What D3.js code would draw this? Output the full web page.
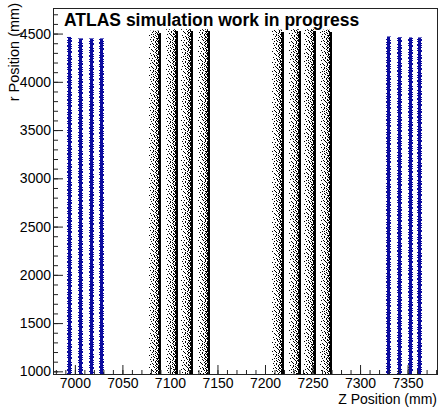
<!DOCTYPE html>
<html>
<head>
<meta charset="utf-8">
<script src="https://cdn.jsdelivr.net/npm/d3@7"></script>
<style>
  body { margin: 0; background: #fff; }
  text { font-family: "Liberation Sans", Arial, Helvetica, sans-serif; }
</style>
</head>
<body>
<div id="chart"></div>
<script>
var width = 441,
    height = 408,
    frame = {left: 53, right: 438, top: 8, bottom: 375};

// axis ticks
var zTicks = [7000, 7050, 7100, 7150, 7200, 7250, 7300, 7350];
var rTicks = [1000, 1500, 2000, 2500, 3000, 3500, 4000, 4500];

// blue layers: z of each strip (mm) and the highest r reached (mm)
var blueZ   = [6994, 7006, 7017.7, 7028, 7329.7, 7341.3, 7352.6, 7363];
var blueTop = [4465, 4450, 4450, 4450, 4470, 4462, 4460, 4460];

// black layers: z of the dense edge of each strip and the highest r reached
var blackZ   = [7091, 7108.5, 7124, 7142, 7220, 7238, 7253.5, 7271];
var blackTop = [4530, 4545, 4545, 4545, 4540, 4545, 4545, 4540];

// hits continue below the visible range
var rLow = 900;

// hit textures ('#' = hit pixel), mimic the scatter of single hits
var blackTex = [
    "....#..#.#", "..#...#.##", "......#..#", "...#...#.#",
    ".#..#..##.", "......#..#", "....#..#.#", "#....#..##",
    ".......#.#", "..#...#..#", "...#...##.", "....#..#.#",
    "......#..#", ".#.....#.#", "....#...##", "..#..#.#..",
    ".....#..#.", "......#.##", "#..#....#.", ".......#.#",
    "..#..#..##", ".....#...#", "...#...#.#", ".#..#..##.",
    ".....#...#", "......#.##", "..#....#.#", "#..#...#..",
    "....#..#.#", "......#..#", ".#..#...##", "....#.#..#",
    "...#...#.#", "......#.#.", "..#.#...##", "#.....#..#",
    "....#..#.#", "..#..#...#", ".......###", ".#..#...#."
];
var blueTex = [
    ".###.", "####.", ".####", ".###.", "#####", ".####",
    "####.", ".###.", ".####", "####.", "#####", ".###.",
    ".####", "####.", ".###.", "#####", ".####", ".###."
];

var blue = "#0b0b9e";

var svg = d3.select("#chart")
    .append("svg")
    .attr("width", width)
    .attr("height", height);

var x = d3.scaleLinear().domain([6977, 7382]).range([frame.left, frame.right]);
var y = d3.scaleLinear().domain([962, 4765]).range([frame.bottom, frame.top]);

var defs = svg.append("defs");
defs.append("clipPath").attr("id", "frame-clip")
    .append("rect")
    .attr("x", frame.left).attr("y", frame.top)
    .attr("width", frame.right - frame.left)
    .attr("height", frame.bottom - frame.top);

function texPattern(id, tex, x0, y0, color) {
    var p = defs.append("pattern")
        .attr("id", id)
        .attr("patternUnits", "userSpaceOnUse")
        .attr("x", x0).attr("y", y0)
        .attr("width", tex[0].length)
        .attr("height", tex.length);
    tex.forEach(function(row, j) {
        row.split("").forEach(function(c, i) {
            if (c === "#") {
                p.append("rect")
                    .attr("x", i).attr("y", j)
                    .attr("width", 1).attr("height", 1)
                    .attr("fill", color)
                    .attr("shape-rendering", "crispEdges");
            }
        });
    });
}

var plot = svg.append("g").attr("clip-path", "url(#frame-clip)");

// black strips: scattered hits on the left, dense edge on the right
blackZ.forEach(function(z, i) {
    var edge = Math.round(x(z));
    var w = blackTex[0].length;
    texPattern("tex-black-" + i, blackTex, edge - 2 - w, i * 11, "#000");
    plot.append("rect")
        .attr("x", edge - 2 - w)
        .attr("y", y(blackTop[i]))
        .attr("width", w)
        .attr("height", y(rLow) - y(blackTop[i]))
        .attr("fill", "url(#tex-black-" + i + ")");
    plot.append("rect")
        .attr("x", edge - 2)
        .attr("y", y(blackTop[i]) + 2)
        .attr("width", 2)
        .attr("height", y(rLow) - y(blackTop[i]))
        .attr("fill", "#000")
        .attr("shape-rendering", "crispEdges");
});

// blue strips
blueZ.forEach(function(z, i) {
    var w = blueTex[0].length;
    var left = Math.round(x(z) - w / 2);
    texPattern("tex-blue-" + i, blueTex, left, i * 5, blue);
    plot.append("rect")
        .attr("x", left)
        .attr("y", y(blueTop[i]))
        .attr("width", w)
        .attr("height", y(rLow) - y(blueTop[i]))
        .attr("fill", "url(#tex-blue-" + i + ")");
});

// axes, ticks pointing into the frame
svg.append("g")
    .attr("transform", "translate(0," + frame.bottom + ")")
    .call(d3.axisBottom(x).tickValues(zTicks).tickSize(-10).tickPadding(3).tickFormat(d3.format("d")));
svg.append("g")
    .attr("transform", "translate(0," + frame.bottom + ")")
    .call(d3.axisBottom(x).tickValues(d3.range(6980, 7390, 10)).tickSize(-5).tickFormat(""));

svg.append("g")
    .attr("transform", "translate(" + frame.left + ",0)")
    .call(d3.axisLeft(y).tickValues(rTicks).tickSize(-10).tickPadding(2).tickFormat(d3.format("d")));
svg.append("g")
    .attr("transform", "translate(" + frame.left + ",0)")
    .call(d3.axisLeft(y).tickValues(d3.range(1000, 4800, 100)).tickSize(-5).tickFormat(""));

svg.selectAll(".domain").remove();
svg.selectAll(".tick line").attr("stroke", "#222");
svg.selectAll(".tick text")
    .attr("fill", "#000")
    .style("font-size", "14px")
    .style("font-family", "'Liberation Sans', Arial, sans-serif");

// frame
svg.append("rect")
    .attr("x", frame.left + 0.5).attr("y", frame.top + 0.5)
    .attr("width", frame.right - frame.left - 1)
    .attr("height", frame.bottom - frame.top - 1)
    .attr("fill", "none")
    .attr("stroke", "#222")
    .attr("stroke-width", 1);

// titles
svg.append("text")
    .attr("x", frame.right - 1)
    .attr("y", 404)
    .attr("text-anchor", "end")
    .style("font-size", "14px")
    .text("Z Position (mm)");

svg.append("text")
    .attr("transform", "translate(19,3) rotate(-90)")
    .attr("text-anchor", "end")
    .style("font-size", "14.5px")
    .text("r Position (mm)");

svg.append("text")
    .attr("x", 64)
    .attr("y", 26)
    .style("font-size", "17.5px")
    .style("font-weight", "bold")
    .text("ATLAS simulation work in progress");
</script>
</body>
</html>
